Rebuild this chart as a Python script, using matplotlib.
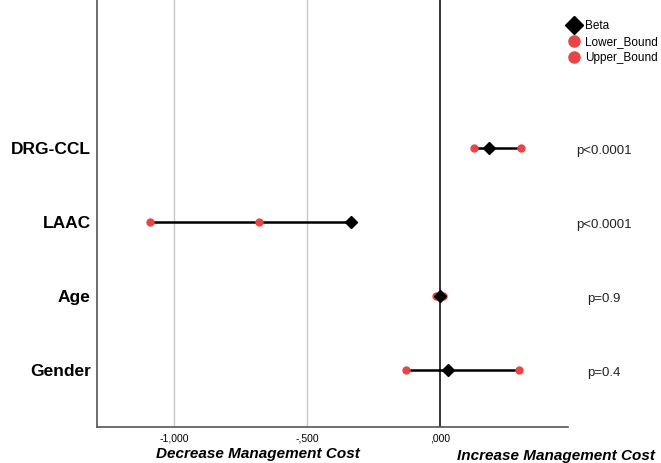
import matplotlib
matplotlib.use("Agg")
import matplotlib.pyplot as plt
from matplotlib.lines import Line2D
from matplotlib.transforms import blended_transform_factory

plt.rcParams['font.family'] = ['Liberation Sans', 'DejaVu Sans']

categories = ['DRG-CCL', 'LAAC', 'Age', 'Gender']
beta = [0.184, -0.335, 0.0, 0.03]
lower = [0.128, -1.09, -0.015, -0.128]
upper = [0.305, -0.68, 0.012, 0.297]
pvals = ['p<0.0001', 'p<0.0001', 'p=0.9', 'p=0.4']
xticks = [-1.0, -0.5, 0.0]
xticklabels = ['-1,000', '-,500', ',000']

fig = plt.figure(figsize=(6.61, 4.63), dpi=100)
ax = fig.add_axes([97/661, 36/463, (568-97)/661, 427/463])

n = len(categories)
ys = [n - i for i in range(n)]  # DRG-CCL at top

red = '#e84545'
for x in xticks[:2]:
    ax.axvline(x, color='#c8c8c8', lw=1.0, zorder=0)
ax.axvline(0, color='#333333', lw=1.4, zorder=1)

for y, b, lo, up in zip(ys, beta, lower, upper):
    lo_x = min(b, lo, up)
    hi_x = max(b, lo, up)
    ax.plot([lo_x, hi_x], [y, y], color='black', lw=1.8, zorder=2)
    ax.plot([lo, up], [y, y], 'o', color=red, ms=5, mec=red, ls='none', zorder=3)
    ax.plot([b], [y], 'D', color='black', ms=6, zorder=4)

ax.set_xlim(-1.29, 0.48)
ax.set_ylim(0.23, 6.0)
ax.set_yticks(ys)
ax.set_yticklabels(categories, fontsize=12.5, fontweight='bold')
ax.set_xticks(xticks)
ax.set_xticklabels(xticklabels, fontsize=7.5)
ax.tick_params(axis='x', length=0, pad=5)
ax.tick_params(axis='y', length=0, pad=4.5)
for s in ['top', 'right']:
    ax.spines[s].set_visible(False)
for s in ['left', 'bottom']:
    ax.spines[s].set_color('#555555')
    ax.spines[s].set_linewidth(1.2)

tr = blended_transform_factory(fig.transFigure, ax.transData)
for y, p in zip(ys, pvals):
    ax.text(604/661, y - 0.04, p, fontsize=9.5, ha='center', va='center',
            clip_on=False, transform=tr, color='#222222')

fig.text(258/661, 1 - 454/463, 'Decrease Management Cost', fontsize=11,
         fontweight='bold', fontstyle='italic', ha='center', va='center')
fig.text(556/661, 1 - 456/463, 'Increase Management Cost', fontsize=11,
         fontweight='bold', fontstyle='italic', ha='center', va='center')

handles = [
    Line2D([], [], marker='D', color='black', ls='none', ms=9, label='Beta'),
    Line2D([], [], marker='o', color=red, ls='none', ms=8, label='Lower_Bound'),
    Line2D([], [], marker='o', color=red, ls='none', ms=8, label='Upper_Bound'),
]
fig.legend(handles=handles, loc='upper left', bbox_to_anchor=(567/661, 1 - 20/463),
           frameon=False, fontsize=8.5, handletextpad=0.3, labelspacing=0.35,
           borderpad=0, borderaxespad=0, handlelength=1.2)

fig.savefig('out.png', dpi=100)
